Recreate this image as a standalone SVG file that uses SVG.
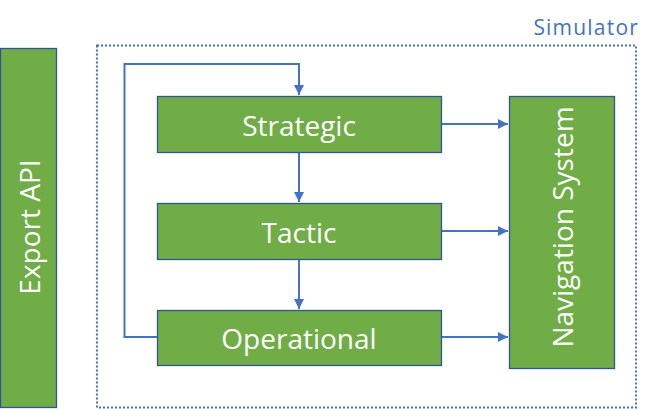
<svg xmlns="http://www.w3.org/2000/svg" width="659" height="409" viewBox="0 0 659 409">
<defs>
<style>
.box{fill:#70AD47;stroke:#2F5597;stroke-width:1.3}
.lbl{font-family:"Open Sans","Noto Sans",sans-serif;fill:#FFFFFF;font-size:28px;text-anchor:middle;dominant-baseline:central}
.con{fill:none;stroke:#4472C4;stroke-width:2}
</style>
<marker id="arr" viewBox="0 0 10 10" refX="10" refY="5" markerWidth="5" markerHeight="5" orient="auto" markerUnits="strokeWidth">
<path d="M0,0 L10,5 L0,10 z" fill="#4472C4"/>
</marker>
</defs>
<rect width="659" height="409" fill="#FFFFFF"/>
<g id="simulator">
<rect x="97" y="45.5" width="539" height="362" fill="none" stroke="#4472C4" stroke-width="2" stroke-dasharray="2,2"/>
<text x="639" y="35" font-family="'Open Sans','Noto Sans',sans-serif" font-size="21" letter-spacing="1.2" fill="#4472C4" text-anchor="end">Simulator</text>
</g>
<g id="export-api">
<rect class="box" x="0.5" y="48.5" width="56" height="359"/>
<text class="lbl" transform="translate(28.5,227) rotate(-90)">Export API</text>
</g>
<g id="strategic">
<rect class="box" x="157.5" y="96.5" width="284" height="56"/>
<text class="lbl" x="299" y="125">Strategic</text>
</g>
<g id="tactic">
<rect class="box" x="157.5" y="203.5" width="284" height="56"/>
<text class="lbl" x="299" y="232">Tactic</text>
</g>
<g id="operational">
<rect class="box" x="157.5" y="310.5" width="284" height="55"/>
<text class="lbl" x="299" y="338">Operational</text>
</g>
<g id="navigation">
<rect class="box" x="509.5" y="96.5" width="105" height="272"/>
<text class="lbl" transform="translate(562,227) rotate(-90)">Navigation System</text>
</g>
<g id="connectors">
<path class="con" d="M157,337 H124.5 V64 H299 V95" marker-end="url(#arr)"/>
<path class="con" d="M299,153 V202" marker-end="url(#arr)"/>
<path class="con" d="M299,260 V309" marker-end="url(#arr)"/>
<path class="con" d="M442,124 H508" marker-end="url(#arr)"/>
<path class="con" d="M442,231 H508" marker-end="url(#arr)"/>
<path class="con" d="M442,337 H508" marker-end="url(#arr)"/>
</g>
</svg>
